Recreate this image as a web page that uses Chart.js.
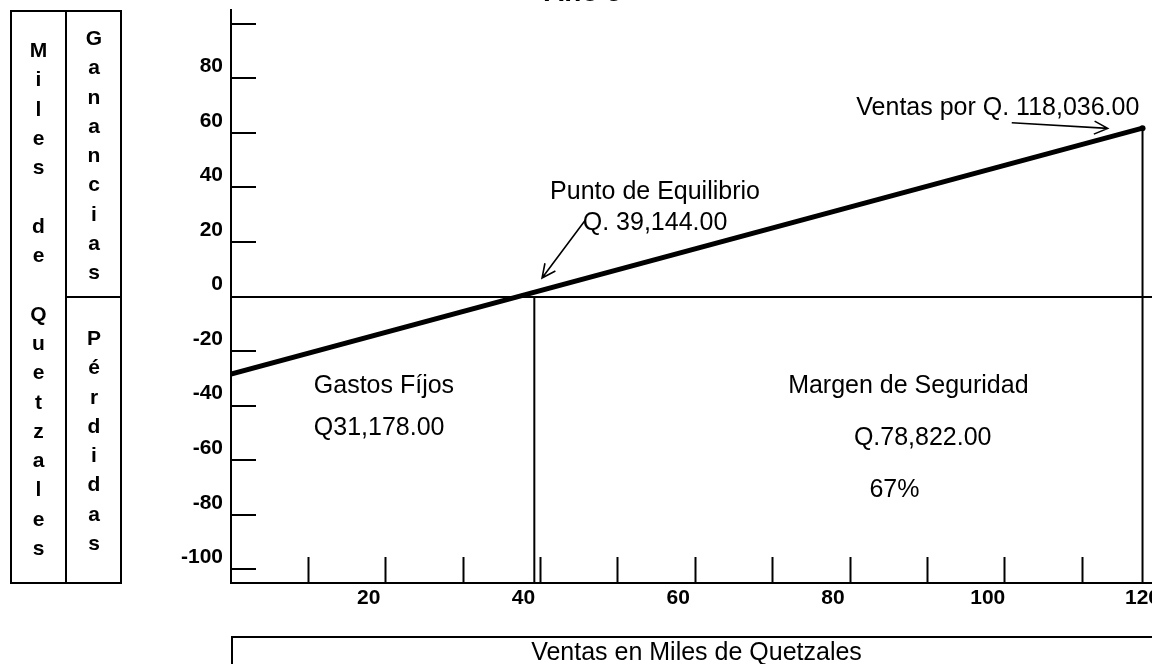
<!DOCTYPE html>
<html lang="es">
<head>
<meta charset="utf-8">
<title>Punto de Equilibrio - Año 5</title>
<script src="https://cdn.jsdelivr.net/npm/chart.js"></script>
<style>
  html, body { margin: 0; padding: 0; background: #fff; overflow: hidden; width: 1152px; height: 664px; }
  body { position: relative; font-family: "Liberation Sans", Arial, sans-serif; color: #000; }
  #wrap { position: absolute; left: 0; top: 0; width: 1162px; height: 664px; }
  .caja { position: absolute; border: 2px solid #000; box-sizing: border-box; }
  .vert { position: absolute; text-align: center; font-size: 21px; font-weight: bold; line-height: 29.3px; }
  #titulo { position: absolute; left: 483px; width: 200px; top: -24px; text-align: center;
            font-size: 28px; font-weight: bold; line-height: 32px; }
  #ejeX { position: absolute; left: 231px; top: 636px; width: 931px; height: 40px;
          border: 2px solid #000; box-sizing: border-box; text-align: center;
          font-size: 25px; line-height: 27px; }
</style>
</head>
<body>
<div id="wrap"><canvas id="grafica" width="1162" height="664"></canvas></div>

<div id="titulo">Año 5</div>

<div class="caja" style="left:10px; top:10px; width:57px; height:574px;"></div>
<div class="caja" style="left:65px; top:10px; width:57px; height:288px;"></div>
<div class="caja" style="left:65px; top:296px; width:57px; height:288px;"></div>

<div class="vert" style="left:10px; width:57px; top:35px;">M<br>i<br>l<br>e<br>s<br><br>d<br>e<br><br>Q<br>u<br>e<br>t<br>z<br>a<br>l<br>e<br>s</div>
<div class="vert" style="left:66px; width:56px; top:23px;">G<br>a<br>n<br>a<br>n<br>c<br>i<br>a<br>s</div>
<div class="vert" style="left:66px; width:56px; top:323px;">P<br>é<br>r<br>d<br>i<br>d<br>a<br>s</div>

<div id="ejeX">Ventas en Miles de Quetzales</div>

<script>
// ventas (miles de Q) y resultado (miles de Q)
var ventas = [2.2, 120];
var resultado = [-28.4, 61.7];

// lineas verticales: punto de equilibrio y ventas totales
var equilibrioX = [41.4, 41.4];
var equilibrioY = [0, -105];
var ventasTopeX = [120, 120];
var ventasTopeY = [61.7, -105];

// ejes
var yTicks = [-100, -80, -60, -40, -20, 0, 20, 40, 60, 80, 100];
var yLabels = [-100, -80, -60, -40, -20, 0, 20, 40, 60, 80];
var xMarks = [12.2, 22.2, 32.2, 42.2, 52.2, 62.2, 72.2, 82.2, 92.2, 102.2, 112.2];
var xLabels = [20, 40, 60, 80, 100, 120];

// textos y flechas (en unidades del grafico)
var textos = [
  { texto: "Punto de Equilibrio", x: 57, y: 35.7, align: "center" },
  { texto: "Q. 39,144.00", x: 57, y: 24.4, align: "center" },
  { texto: "Ventas por Q. 118,036.00", x: 101.3, y: 66.5, align: "center" },
  { texto: "Gastos Fíjos", x: 12.9, y: -35.5, align: "left" },
  { texto: "Q31,178.00", x: 12.9, y: -50.8, align: "left" },
  { texto: "Margen de Seguridad", x: 74.2, y: -35.3, align: "left" },
  { texto: "Q.78,822.00", x: 82.7, y: -54.4, align: "left" },
  { texto: "67%", x: 84.7, y: -73.4, align: "left" }
];
var flechas = [
  { x1: 48.0, y1: 28.0, x2: 42.4, y2: 6.8 },
  { x1: 103.1, y1: 63.7, x2: 115.5, y2: 61.6 }
];

function puntos(xs, ys) {
  return xs.map(function (v, i) { return { x: v, y: ys[i] }; });
}

var anotaciones = {
  id: 'anotaciones',
  afterDatasetsDraw: function (chart) {
    var ctx = chart.ctx;
    var sx = chart.scales.x;
    var sy = chart.scales.y;
    ctx.save();
    ctx.fillStyle = '#000';
    ctx.strokeStyle = '#000';
    ctx.font = '25px "Liberation Sans", Arial, sans-serif';
    ctx.textBaseline = 'alphabetic';
    textos.forEach(function (t) {
      ctx.textAlign = t.align;
      ctx.fillText(t.texto, sx.getPixelForValue(t.x), sy.getPixelForValue(t.y));
    });
    ctx.lineWidth = 1.6;
    flechas.forEach(function (f) {
      var ax = sx.getPixelForValue(f.x1), ay = sy.getPixelForValue(f.y1);
      var bx = sx.getPixelForValue(f.x2), by = sy.getPixelForValue(f.y2);
      var ang = Math.atan2(by - ay, bx - ax);
      ctx.beginPath();
      ctx.moveTo(ax, ay);
      ctx.lineTo(bx, by);
      ctx.moveTo(bx - 15 * Math.cos(ang - 0.45), by - 15 * Math.sin(ang - 0.45));
      ctx.lineTo(bx, by);
      ctx.lineTo(bx - 15 * Math.cos(ang + 0.45), by - 15 * Math.sin(ang + 0.45));
      ctx.stroke();
    });
    ctx.restore();
  }
};

Chart.defaults.font.family = '"Liberation Sans", Arial, sans-serif';
Chart.defaults.color = '#000';

var ctx = document.getElementById('grafica').getContext('2d');
var grafica = new Chart(ctx, {
  type: 'scatter',
  data: {
    datasets: [{
      data: puntos(ventas, resultado),
      showLine: true,
      borderColor: '#000',
      borderWidth: 5,
      pointRadius: [0, 3],
      pointBackgroundColor: '#000',
      pointBorderWidth: 0
    }, {
      data: puntos(equilibrioX, equilibrioY),
      showLine: true,
      borderColor: '#000',
      borderWidth: 2,
      pointRadius: 0
    }, {
      data: puntos(ventasTopeX, ventasTopeY),
      showLine: true,
      borderColor: '#000',
      borderWidth: 2,
      pointRadius: 0
    }]
  },
  options: {
    responsive: false,
    animation: false,
    layout: { padding: { top: 10, left: 0, right: 0, bottom: 0 } },
    plugins: {
      legend: { display: false },
      tooltip: { enabled: false }
    },
    scales: {
      x: {
        type: 'linear',
        min: 2.2,
        max: 122,
        border: { display: true, color: '#000', width: 2 },
        grid: {
          drawOnChartArea: false,
          tickLength: -26,
          tickWidth: 2,
          tickColor: function (c) { return xMarks.indexOf(c.tick.value) >= 0 ? '#000' : 'rgba(0,0,0,0)'; }
        },
        ticks: {
          autoSkip: false,
          maxRotation: 0,
          minRotation: 0,
          padding: 29,
          color: '#000',
          font: { size: 21, weight: 'bold' },
          callback: function (v) { return xLabels.indexOf(v) >= 0 ? String(v) : ''; }
        },
        afterBuildTicks: function (s) {
          s.ticks = xMarks.concat(xLabels).sort(function (a, b) { return a - b; })
            .map(function (v) { return { value: v }; });
        },
        afterFit: function (s) {
          s.height = 81;
          s.paddingLeft = 0;
          s.paddingRight = 0;
        }
      },
      y: {
        type: 'linear',
        min: -105,
        max: 105,
        border: { display: true, color: '#000', width: 2 },
        grid: {
          drawOnChartArea: true,
          tickLength: -25,
          lineWidth: 2,
          tickWidth: 2,
          color: function (c) { return c.tick && c.tick.value === 0 ? '#000' : 'rgba(0,0,0,0)'; },
          tickColor: '#000'
        },
        ticks: {
          autoSkip: false,
          padding: 33,
          labelOffset: -12,
          color: '#000',
          font: { size: 21, weight: 'bold' },
          callback: function (v) { return yLabels.indexOf(v) >= 0 ? String(v) : ''; }
        },
        afterBuildTicks: function (s) {
          s.ticks = yTicks.map(function (v) { return { value: v }; });
        },
        afterFit: function (s) {
          s.width = 231;
          s.paddingTop = 0;
          s.paddingBottom = 0;
        }
      }
    }
  },
  plugins: [anotaciones]
});
</script>
</body>
</html>
